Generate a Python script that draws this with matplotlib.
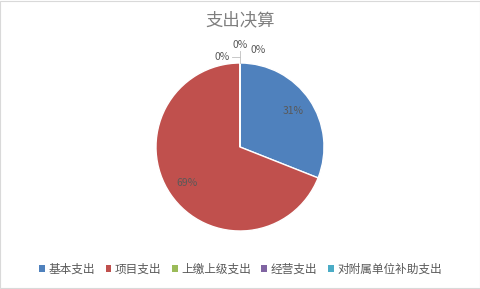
import matplotlib
matplotlib.use("Agg")
import matplotlib.pyplot as plt
from matplotlib.patches import Rectangle
import numpy as np

plt.rcParams['font.family'] = ['Noto Sans CJK SC', 'DejaVu Sans']

title = "支出决算"
categories = ["基本支出", "项目支出", "上缴上级支出", "经营支出", "对附属单位补助支出"]
values = [31, 69, 0, 0, 0]
colors = ["#4F81BD", "#C0504D", "#9BBB59", "#8064A2", "#4BACC6"]

W, H = 481, 289
fig = plt.figure(figsize=(W/100, H/100), dpi=100)
fig.patch.set_facecolor("white")
fig.patches.append(Rectangle((0.001, 0.002), 0.997, 0.995, transform=fig.transFigure,
                             fill=False, edgecolor="#D9D9D9", linewidth=0.8))

cx, cy, r = 240, 147, 84
ax = fig.add_axes([(cx - r)/W, (H - cy - r)/H, 2*r/W, 2*r/H])

wedges, _ = ax.pie(values, colors=colors, startangle=90, counterclock=False,
                   wedgeprops=dict(edgecolor="white", linewidth=1.0), radius=1.0)
ax.set_xlim(-1, 1)
ax.set_ylim(-1, 1)
ax.set_aspect("equal")
ax.axis("off")

total = sum(values)
for v, w in zip(values, wedges):
    if v > 0:
        mid = np.deg2rad((w.theta1 + w.theta2) / 2)
        d = 0.77
        ax.text(d*np.cos(mid), d*np.sin(mid), f"{round(100*v/total)}%",
                ha="center", va="center", fontsize=7.5, color="#595959")

zero_pos = [(-0.21, 1.07), (0.0, 1.22), (0.22, 1.15)]
zi = 0
for v in values:
    if v == 0:
        x, y = zero_pos[zi]
        zi += 1
        ax.text(x, y, "0%", ha="center", va="center", fontsize=7.5,
                color="#595959", clip_on=False)
ax.plot([0.0, 0.0], [1.0, 1.14], color="#BFBFBF", lw=0.6, clip_on=False)
ax.plot([-0.1, 0.0], [1.07, 1.07], color="#BFBFBF", lw=0.6, clip_on=False)

fig.text(0.5, 1 - 20/H, title, ha="center", va="center", fontsize=12.5,
         color="#7F7F7F", fontweight="light")

handles = [Rectangle((0, 0), 1, 1, facecolor=c, edgecolor="none") for c in colors]
fig.legend(handles, categories, loc="center", bbox_to_anchor=(0.5, 1 - 269/H),
           ncol=5, frameon=False, fontsize=8.4, labelcolor="#595959",
           handlelength=0.5, handleheight=0.5, handletextpad=0.3,
           columnspacing=0.9)

fig.savefig("out.png", dpi=100)
